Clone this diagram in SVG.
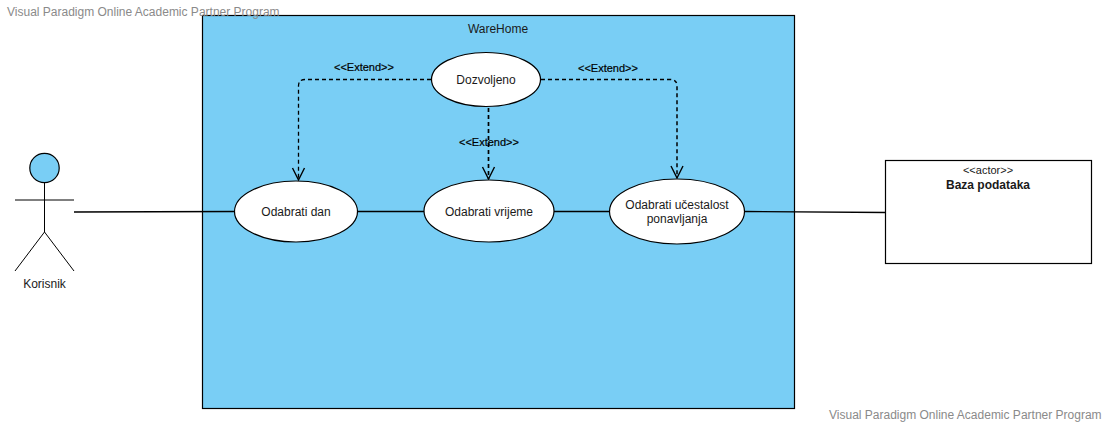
<svg xmlns="http://www.w3.org/2000/svg" width="1108" height="424" viewBox="0 0 1108 424">
<style>
text{font-family:"Liberation Sans",Arial,sans-serif;font-size:12px;fill:#1a1a1a;text-anchor:middle}
.wm{fill:#8a8a8a;text-anchor:start}
.uc{fill:#fff;stroke:#000;stroke-width:1.2}
.ln{fill:none;stroke:#000;stroke-width:1.3}
.dash{fill:none;stroke:#000;stroke-width:1.3;stroke-dasharray:4 3}
.ster{font-size:11px;fill:#000;stroke:#000;stroke-width:.2}
</style>
<defs>
<marker id="open" markerUnits="userSpaceOnUse" markerWidth="16" markerHeight="16" refX="13" refY="7" orient="auto">
<path d="M1 1 L13 7 L1 13" fill="none" stroke="#000" stroke-width="1.4"/>
</marker>
</defs>
<g id="system">
<rect x="202.500" y="15.500" width="592" height="393" fill="#79cef5" stroke="#000" stroke-width="1.2"/>
<text x="498" y="33">WareHome</text>
</g>
<g id="connectors">
<path class="ln" d="M74 212 L234 211.500"/>
<path class="ln" d="M358 211.500 H424"/>
<path class="ln" d="M554 211.500 H610"/>
<path class="ln" d="M745 211.500 L886 212.500"/>
<path class="dash" d="M431 79.500 H305 Q298.500 79.500 298.500 86 V180" marker-end="url(#open)"/>
<path class="dash" d="M488.500 108 V179" style="stroke-width:1.7" marker-end="url(#open)"/>
<path class="dash" d="M541 79.500 H670 Q677 79.500 677 86 V178" style="stroke-width:1.5" marker-end="url(#open)"/>
<text class="ster" x="364" y="71">&lt;&lt;Extend&gt;&gt;</text>
<text class="ster" x="608" y="72">&lt;&lt;Extend&gt;&gt;</text>
<text class="ster" x="489" y="146">&lt;&lt;Extend&gt;&gt;</text>
</g>
<g id="dozvoljeno"><ellipse class="uc" cx="486" cy="79.500" rx="54.500" ry="27"/><text x="486" y="84">Dozvoljeno</text></g>
<g id="odabrati-dan"><ellipse class="uc" cx="296" cy="211.500" rx="61.500" ry="30.500"/><text x="296" y="216">Odabrati dan</text></g>
<g id="odabrati-vrijeme"><ellipse class="uc" cx="489" cy="211" rx="65" ry="31"/><text x="489" y="216">Odabrati vrijeme</text></g>
<g id="odabrati-ucestalost"><ellipse class="uc" cx="677" cy="211.500" rx="67.500" ry="32.500"/><text x="677" y="209">Odabrati učestalost</text><text x="677" y="223">ponavljanja</text></g>
<g id="korisnik">
<circle cx="44.500" cy="168" r="14.700" fill="#79cef5" stroke="#000" stroke-width="1.2"/>
<path class="ln" style="stroke-width:1" d="M44.500 183 V232 M15 200 H74 M44.500 232 L15 271 M44.500 232 L74 271"/>
<text x="44.500" y="288">Korisnik</text>
</g>
<g id="baza-podataka">
<rect x="885.500" y="160.500" width="206" height="103" fill="#fff" stroke="#000" stroke-width="1.2"/>
<text x="988" y="174" style="font-size:11px">&lt;&lt;actor&gt;&gt;</text>
<text x="988" y="189" style="font-weight:bold">Baza podataka</text>
</g>
<g id="watermarks">
<text class="wm" x="7" y="16">Visual Paradigm Online Academic Partner Program</text>
<text class="wm" x="829" y="419">Visual Paradigm Online Academic Partner Program</text>
</g>
</svg>
